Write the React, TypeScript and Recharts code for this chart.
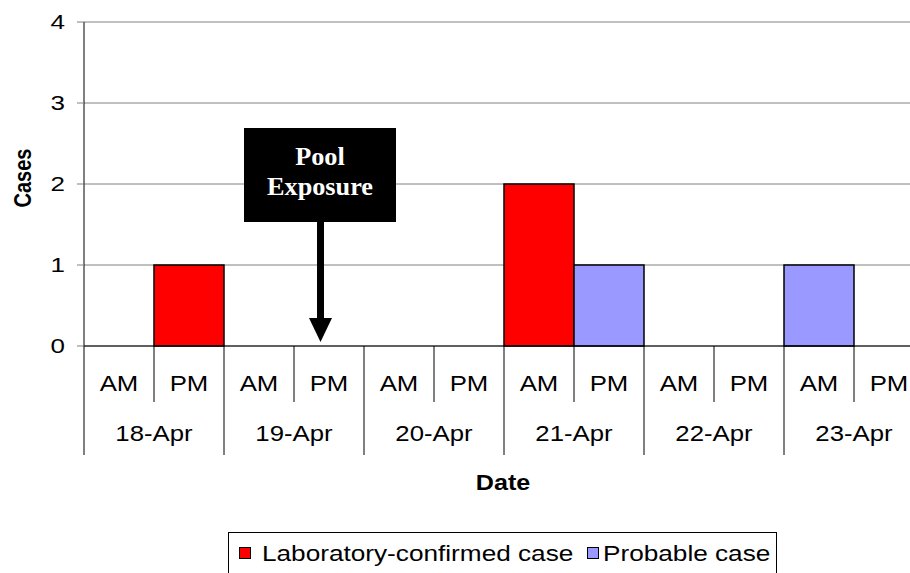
import React from "react";
import { BarChart, Bar, XAxis, YAxis, CartesianGrid } from "recharts";

const days = ["18-Apr", "19-Apr", "20-Apr", "21-Apr", "22-Apr", "23-Apr"];
const halves = ["AM", "PM"];
const labConfirmed = [0, 1, 0, 0, 0, 0, 2, 0, 0, 0, 0, 0];
const probable = [0, 0, 0, 0, 0, 0, 0, 1, 0, 0, 1, 0];
const yTicks = [0, 1, 2, 3, 4];
const seriesNames = ["Laboratory-confirmed case", "Probable case"];
const seriesColors = ["#FF0000", "#9999FF"];

const data = days.flatMap((day, d) =>
  halves.map((half, h) => {
    const i = d * 2 + h;
    return {
      slot: `${day} ${half}`,
      day,
      half,
      lab: labConfirmed[i],
      probable: probable[i],
    };
  })
);

// layout
const CHART_W = 940;
const CHART_H = 573;
const AXIS_W = 84;
const MARGIN = { top: 22, right: 16, bottom: 0, left: 0 };
const PLOT_W = CHART_W - AXIS_W - MARGIN.left - MARGIN.right;
const SLOT = PLOT_W / data.length;
const SANS = "'Liberation Sans', Arial, sans-serif";
const SERIF = "'Liberation Serif', 'Times New Roman', serif";

const XTick = (props: any) => {
  const { x, y, index } = props;
  const row = data[index];
  if (!row) return null;
  const right = x + SLOT / 2;
  const isPM = row.half === "PM";
  return (
    <g>
      <text
        transform={`translate(${x},${y + 45}) scale(1.12,1)`}
        textAnchor="middle"
        fontFamily={SANS}
        fontSize={23}
        fill="#000"
      >
        {row.half}
      </text>
      <line x1={right} x2={right} y1={y} y2={y + (isPM ? 109 : 56)} stroke="#000" />
      {index === 0 && (
        <line x1={x - SLOT / 2} x2={x - SLOT / 2} y1={y} y2={y + 109} stroke="#000" />
      )}
      {!isPM && (
        <text
          transform={`translate(${right},${y + 95}) scale(1.12,1)`}
          textAnchor="middle"
          fontFamily={SANS}
          fontSize={23}
          fill="#000"
        >
          {row.day}
        </text>
      )}
    </g>
  );
};

const YTick = (props: any) => {
  const { x, y, payload } = props;
  return (
    <text
      transform={`translate(${x},${y + 7}) scale(1.3,1)`}
      textAnchor="end"
      fontFamily={SANS}
      fontSize={20}
      fill="#000"
    >
      {payload.value}
    </text>
  );
};

export default function App() {
  return (
    <div
      style={{
        position: "fixed",
        left: 0,
        top: 0,
        width: 910,
        height: 573,
        overflow: "hidden",
        background: "#fff",
      }}
    >
      <BarChart
        width={CHART_W}
        height={CHART_H}
        data={data}
        margin={MARGIN}
        barCategoryGap={0}
        barGap={0}
      >
        <CartesianGrid vertical={false} stroke="#808080" />
        <XAxis
          dataKey="slot"
          interval={0}
          height={CHART_H - 346}
          tickLine={false}
          tickSize={0}
          tickMargin={0}
          axisLine={{ stroke: "#000" }}
          tick={<XTick />}
        />
        <YAxis
          width={AXIS_W}
          domain={[0, 4]}
          ticks={yTicks}
          interval={0}
          axisLine={{ stroke: "#000" }}
          tickLine={{ stroke: "#808080" }}
          tickSize={7}
          tickMargin={12}
          tick={<YTick />}
        />
        <Bar
          dataKey="lab"
          name={seriesNames[0]}
          stackId="a"
          fill={seriesColors[0]}
          stroke="#000"
          strokeWidth={1.5}
          isAnimationActive={false}
        />
        <Bar
          dataKey="probable"
          name={seriesNames[1]}
          stackId="a"
          fill={seriesColors[1]}
          stroke="#000"
          strokeWidth={1.5}
          isAnimationActive={false}
        />
      </BarChart>

      {/* titles, annotation and legend */}
      <svg
        width={910}
        height={573}
        style={{ position: "absolute", left: 0, top: 0, pointerEvents: "none" }}
      >
        <text
          transform="translate(31,178) scale(1.2,1) rotate(-90)"
          textAnchor="middle"
          fontFamily={SANS}
          fontWeight="bold"
          fontSize={20}
        >
          Cases
        </text>
        <text
          transform="translate(503,490) scale(1.14,1)"
          textAnchor="middle"
          fontFamily={SANS}
          fontWeight="bold"
          fontSize={22}
        >
          Date
        </text>

        <rect x={244} y={128} width={152} height={94} fill="#000" />
        <text
          transform="translate(320,165) scale(1.05,1)"
          textAnchor="middle"
          fontFamily={SERIF}
          fontWeight="bold"
          fontSize={25}
          fill="#fff"
        >
          Pool
        </text>
        <text
          transform="translate(320,195) scale(1.05,1)"
          textAnchor="middle"
          fontFamily={SERIF}
          fontWeight="bold"
          fontSize={25}
          fill="#fff"
        >
          Exposure
        </text>
        <rect x={317} y={222} width={7} height={96} fill="#000" />
        <polygon points="309,318 332,318 320.5,342" fill="#000" />

        <rect x={228.5} y={532.5} width={548} height={60} fill="#fff" stroke="#000" />
        <rect x={239.5} y={547.5} width={11} height={11} fill={seriesColors[0]} stroke="#000" />
        <text
          transform="translate(262,561) scale(1.19,1)"
          fontFamily={SANS}
          fontSize={22}
        >
          {seriesNames[0]}
        </text>
        <rect x={587.5} y={547.5} width={11} height={11} fill={seriesColors[1]} stroke="#000" />
        <text
          transform="translate(603,561) scale(1.19,1)"
          fontFamily={SANS}
          fontSize={22}
        >
          {seriesNames[1]}
        </text>
      </svg>
    </div>
  );
}
